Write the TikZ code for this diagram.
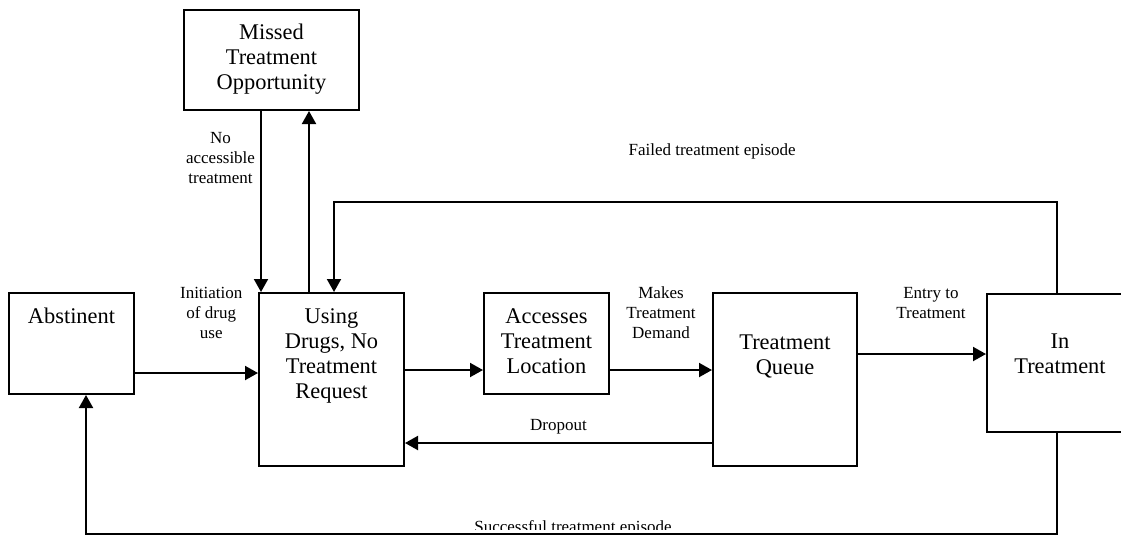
\documentclass[tikz,border=0pt]{standalone}
\usepackage{fontspec}
\setmainfont{Liberation Serif}
\usetikzlibrary{arrows.meta}

\begin{document}
\begin{tikzpicture}[x=0.5pt, y=-0.5pt,
    state/.style={draw, line width=1pt, inner xsep=0pt, inner ysep=0pt, align=center,
      font=\fontsize{11.2pt}{12.5pt}\selectfont},
    flow/.style={line width=1pt, -{Triangle[length=6.5pt,width=7pt]}},
    lbl/.style={align=center, inner sep=0pt, font=\fontsize{8.5pt}{10pt}\selectfont}]
  \clip (0,0) rectangle (1121,538);

  % States (text height reaches down to the last line)
  \node[state, minimum width=87.5pt, text height=39.5pt, text depth=10.5pt] (missed) at (271.5,60) {Missed\\Treatment\\Opportunity};
  \node[state, minimum width=62.5pt, text height=15pt, text depth=35.5pt] (abst) at (71.5,343.5) {Abstinent};
  \node[state, minimum width=72.5pt, text height=52.5pt, text depth=34pt] (using) at (331.5,379.5) {Using\\Drugs, No\\Treatment\\Request};
  \node[state, minimum width=62.5pt, text height=40pt, text depth=10.5pt] (access) at (546.5,343.5) {Accesses\\Treatment\\Location};
  \node[state, minimum width=72pt, text height=40.5pt, text depth=46pt] (queue) at (785,379.5) {Treatment\\Queue};
  \node[state, minimum width=73pt, text height=39.5pt, text depth=29.5pt] (intr) at (1060,363) {In\\Treatment};

  % Helper points for the bends
  \coordinate (noacc) at (261,0);
  \coordinate (missup) at (309,0);
  \coordinate (failR) at (1057,202);
  \coordinate (failL) at (334,202);
  \coordinate (succR) at (1057,534);
  \coordinate (succL) at (86,534);
  \coordinate (row1) at (0,373);
  \coordinate (row2) at (0,370);
  \coordinate (row3) at (0,354);
  \coordinate (row4) at (0,443);

  % Flows
  \draw[flow] (missed.south -| noacc) -- node[lbl, left=2.5pt, pos=0.26] {No\\accessible\\treatment} (using.north -| noacc);
  \draw[flow] (using.north -| missup) -- (missed.south -| missup);
  \draw[flow] (abst.east |- row1) -- node[lbl, above=16.5pt, pos=0.62] {Initiation\\of drug\\use} (using.west |- row1);
  \draw[flow] (using.east |- row2) -- (access.west |- row2);
  \draw[flow] (access.east |- row2) -- node[lbl, above=15pt] {Makes\\Treatment\\Demand} (queue.west |- row2);
  \draw[flow] (queue.east |- row3) -- node[lbl, above=17pt, pos=0.57] {Entry to\\Treatment} (intr.west |- row3);
  \draw[flow] (queue.west |- row4) -- node[lbl, above=4pt] {Dropout} (using.east |- row4);
  \draw[flow] (intr.north -| failR) -- (failR) -- node[lbl, above=21pt, pos=0.477] {Failed treatment episode} (failL) -- (using.north -| failL);
  \draw[flow] (intr.south -| succR) -- (succR) -- (succL) -- (abst.south -| succL);

  % Label cut by the bottom line
  \begin{scope}
    \clip (0,0) rectangle (1121,529);
    \node[lbl, anchor=base] (succlbl) at (573,532) {Successful treatment episode};
  \end{scope}
\end{tikzpicture}
\end{document}
